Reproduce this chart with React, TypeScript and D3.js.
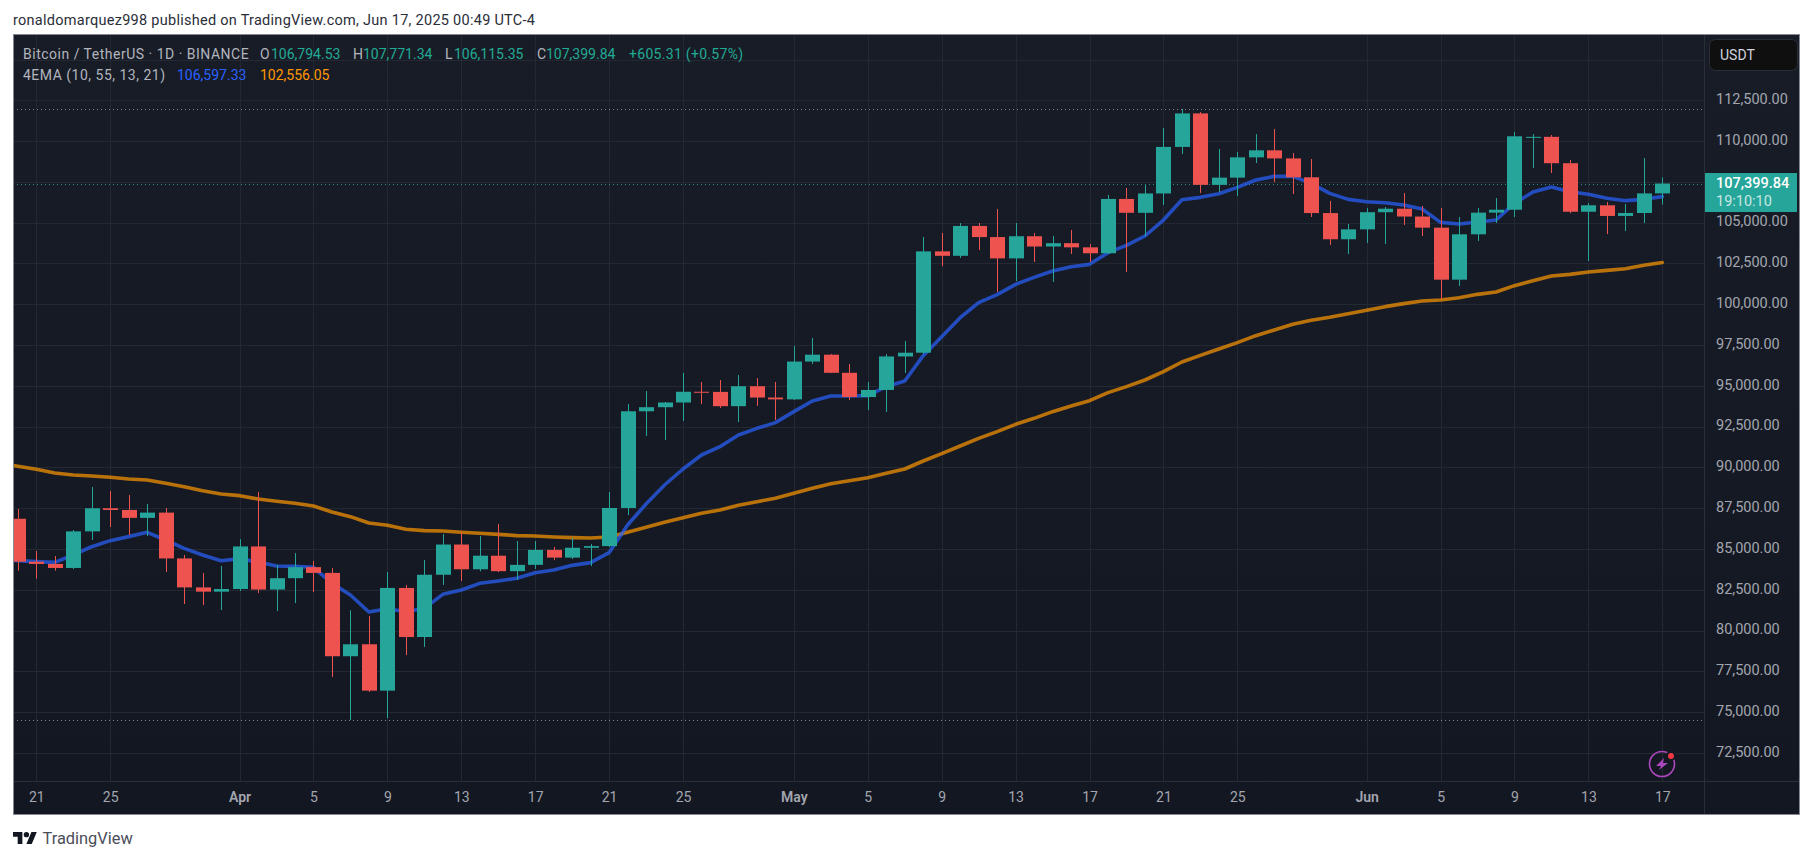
import React, { useEffect, useRef } from 'react';
import * as d3 from 'd3';

const firstDay = new Date(Date.UTC(2025, 2, 20));

const opens = [86854, 84223, 84088, 83840, 86082, 87498, 87392, 86909, 87232, 84424, 82648, 82389,
    82550, 85158, 82516, 83213, 83889, 83537, 78430, 79163, 76322, 82615, 79607, 83423, 85276, 83760, 84591, 83643, 84030, 84947, 84474, 85077, 85179, 87516, 93442, 93691, 93980, 94638, 94630, 93754, 94978, 94284,
    94172, 96489, 96910, 95800, 94315, 94748, 96802, 97032, 103241, 102970, 104800, 104118, 102812, 104169, 103539, 103744, 103489, 103126, 106454, 105606, 106791, 109643, 111696, 107318, 107761, 109004, 109434, 108938, 107781, 105589, 103985, 104591,
    105642, 105857, 105376, 104696, 101508, 104288, 105615, 105793, 110230, 110261, 108645, 105671, 106066, 105414, 105594, 106794.53];
const highs = [87455, 84880, 84573, 86167, 88800, 88557, 88312, 87760, 87515, 84635, 83530, 83960,
    85600, 88500, 84020, 84750, 84270, 83830, 81250, 80900, 83590, 82800, 84330, 85920, 86070, 85800, 86540, 85490, 85490, 85125, 85680, 85310, 88500, 93890, 94685, 94010, 95790, 95235, 95360, 95665, 95480, 95240,
    97445, 97935, 96950, 96340, 95240, 96950, 97750, 104120, 104370, 104980, 104980, 105840, 104980, 104370, 104185, 104550, 103695, 106695, 107125, 107300, 110800, 111970, 111780, 109515, 109330, 110430, 110740, 109270, 108900, 106328, 104918,
    105900, 105960, 106820, 106022, 105900, 105348, 105900, 106510, 110557, 110435, 110374, 108842, 106206, 106267, 106145, 108964, 107771.34];
const lows = [83674, 83184, 83674, 83770, 85554, 86351, 85860, 85800, 83590, 81630, 81570, 81260,
    82430, 82300, 81200, 81690, 82370, 77160, 74520, 76240, 74640, 78500, 79000, 82800, 83040, 83640, 83590, 83100, 83780, 84320, 84390, 83960, 85120, 87085, 91930, 91680, 92845, 93890, 93645, 92785, 93770, 92910,
    94130, 96340, 95790, 94130, 93520, 93400, 95787, 96950, 102345, 102836, 103325, 100750, 101425, 102590, 101365, 103080, 102590, 103080, 101976, 104180, 106083, 109208, 106818, 106880, 106635, 108657, 107490, 106757, 105347, 103630, 103080,
    103760, 103690, 104858, 104183, 100320, 101120, 103877, 104980, 105348, 108351, 108045, 105580, 102650, 104306, 104490, 104980, 106115.35];
const closes = [84223, 84088, 83840, 86082, 87498, 87392, 86909, 87232, 84424, 82648, 82389, 82550,
    85158, 82516, 83213, 83889, 83537, 78430, 79163, 76322, 82615, 79607, 83423, 85276, 83760, 84591, 83643, 84030, 84947, 84474, 85077, 85179, 87516, 93442, 93691, 93980, 94638, 94630, 93754, 94978, 94284, 94172,
    96489, 96910, 95800, 94315, 94748, 96802, 97032, 103241, 102970, 104800, 104118, 102812, 104169, 103539, 103744, 103489, 103126, 106454, 105606, 106791, 109643, 111696, 107318, 107761, 109004, 109434, 108938, 107781, 105589, 103985, 104591,
    105642, 105857, 105376, 104696, 101508, 104288, 105615, 105793, 110295, 110261, 108645, 105671, 106066, 105414, 105594, 106794, 107399.84];

// The EMA lists start one day earlier (Mar 19), that day is cut off by the left edge of the panel
const emaFast = [84320, 84287, 84226, 84185, 84635, 85145, 85513, 85760, 86024, 85554, 85040, 84635, 84287,
    84410, 84205, 83960, 83940, 83880, 82900, 82180, 81141, 81345, 81160, 81366, 82224, 82490, 82898, 83040, 83205, 83552, 83715, 84000, 84165, 84778, 86472, 87760, 88924, 89905, 90763, 91274, 91989, 92397, 92745,
    93419, 94072, 94379, 94379, 94400, 94951, 95298, 96850, 98014, 99178, 100098, 100588, 101221, 101650, 102039, 102304, 102447, 103162, 103612, 104184, 105163, 106410, 106553, 106777, 107166, 107615, 107840, 107840, 107410, 106798, 106430,
    106287, 106226, 106083, 105838, 105021, 104919, 105041, 105164, 106186, 106880, 107187, 106900, 106737, 106492, 106349, 106431, 106597.33];
const emaSlow = [90260, 90069, 89885, 89660, 89538, 89476, 89395, 89293, 89231, 89027, 88823, 88578, 88373,
    88271, 88067, 87924, 87801, 87638, 87270, 86984, 86596, 86453, 86208, 86126, 86105, 86024, 85963, 85901, 85820, 85799, 85738, 85697, 85677, 85738, 86024, 86330, 86636, 86922, 87188, 87392, 87678, 87903, 88107,
    88413, 88720, 89006, 89190, 89373, 89639, 89905, 90395, 90844, 91314, 91784, 92193, 92642, 93010, 93419, 93766, 94093, 94583, 94951, 95359, 95870, 96462, 96871, 97259, 97647, 98076, 98424, 98771, 99016, 99200, 99425,
    99629, 99854, 100038, 100201, 100261, 100404, 100608, 100751, 101140, 101446, 101732, 101834, 101977, 102079, 102181, 102386, 102556.05];

const priceTicks = d3.range(72500, 112501, 2500);
const gridPrices = d3.range(72500, 115001, 2500);
const dateTicks = [[2, 21], [2, 25], [3, 1], [3, 5], [3, 9], [3, 13], [3, 17], [3, 21], [3, 25], [4, 1], [4, 5], [4, 9], [4, 13], [4, 17], [4, 21], [4, 25], [5, 1], [5, 5], [5, 9], [5, 13], [5, 17]]
    .map(([m, d]) => new Date(Date.UTC(2025, m, d)));

const highLine = 111980;
const lowLine = 74508;
const lastPrice = 107399.84;

const UP = '#26a69a';
const DOWN = '#ef5350';
const FONT = 'Roboto, "Open Sans", sans-serif';

export default function App() {
    const svgRef = useRef<SVGSVGElement>(null);

    useEffect(() => {
        if (!svgRef.current) return;
        const svg = d3.select(svgRef.current);
        svg.selectAll('*').remove();

        const plot = { left: 13, right: 1704, top: 34, bottom: 781, outerRight: 1800, outerBottom: 815 };

        const x = d3.scaleUtc()
            .domain([new Date(Date.UTC(2025, 2, 21)), new Date(Date.UTC(2025, 5, 17))])
            .range([36.3, 1662.3]);
        const y = d3.scaleLinear()
            .domain([72500, 112500])
            .range([753, 100.3]);
        const dayX = (i: number) => x(d3.utcDay.offset(firstDay, i));

        const defs = svg.append('defs');
        const grad = defs.append('linearGradient').attr('id', 'bg').attr('x1', 0).attr('x2', 0).attr('y1', 0).attr('y2', 1);
        grad.append('stop').attr('offset', '0%').attr('stop-color', '#181c27');
        grad.append('stop').attr('offset', '100%').attr('stop-color', '#131722');
        defs.append('clipPath').attr('id', 'plot').append('rect')
            .attr('x', plot.left).attr('y', plot.top)
            .attr('width', plot.right - plot.left).attr('height', plot.bottom - plot.top);

        svg.append('rect').attr('width', 1814).attr('height', 860).attr('fill', '#ffffff');

        // Header
        svg.append('text')
            .attr('x', 13).attr('y', 25)
            .attr('font-family', FONT).attr('font-size', 14.5).attr('letter-spacing', 0.27).attr('fill', '#2a2e39')
            .text('ronaldomarquez998 published on TradingView.com, Jun 17, 2025 00:49 UTC-4');

        // Panel
        svg.append('rect')
            .attr('x', plot.left).attr('y', plot.top)
            .attr('width', plot.outerRight - plot.left).attr('height', plot.outerBottom - plot.top)
            .attr('fill', 'url(#bg)');

        const chart = svg.append('g').attr('clip-path', 'url(#plot)');

        // Grid
        chart.append('g').selectAll('line').data(gridPrices).join('line')
            .attr('x1', plot.left).attr('x2', plot.right)
            .attr('y1', d => Math.round(y(d)) + 0.5).attr('y2', d => Math.round(y(d)) + 0.5)
            .attr('stroke', '#242832');
        chart.append('g').selectAll('line').data(dateTicks).join('line')
            .attr('x1', d => Math.round(x(d)) + 0.5).attr('x2', d => Math.round(x(d)) + 0.5)
            .attr('y1', plot.top).attr('y2', plot.bottom)
            .attr('stroke', '#242832');

        // Dotted high / low / last price lines
        const dotted = [
            { price: highLine, color: '#9598a1' },
            { price: lowLine, color: '#9598a1' },
            { price: lastPrice, color: UP },
        ];
        chart.append('g').selectAll('line').data(dotted).join('line')
            .attr('x1', plot.left).attr('x2', plot.right)
            .attr('y1', d => Math.round(y(d.price)) + 0.5).attr('y2', d => Math.round(y(d.price)) + 0.5)
            .attr('stroke', d => d.color)
            .attr('stroke-opacity', 0.85)
            .attr('stroke-dasharray', '1,3');

        // EMA lines go under the candles
        const line = d3.line<number>().x((_, i) => dayX(i - 1)).y(d => y(d));
        [{ values: emaSlow, color: '#ff9800' }, { values: emaFast, color: '#2962ff' }].forEach(s => {
            chart.append('path')
                .attr('d', line(s.values))
                .attr('fill', 'none')
                .attr('stroke', s.color)
                .attr('stroke-opacity', 0.7)
                .attr('stroke-width', 3.6)
                .attr('stroke-linecap', 'round')
                .attr('stroke-linejoin', 'round');
        });

        // Candles
        const bars = d3.range(closes.length);
        const colorOf = (i: number) => (closes[i] >= opens[i] ? UP : DOWN);
        chart.append('g').selectAll('line').data(bars).join('line')
            .attr('x1', i => Math.round(dayX(i)) + 0.5).attr('x2', i => Math.round(dayX(i)) + 0.5)
            .attr('y1', i => y(highs[i])).attr('y2', i => y(lows[i]))
            .attr('stroke', colorOf);
        const bodyWidth = 15;
        chart.append('g').selectAll('rect').data(bars).join('rect')
            .attr('x', i => Math.round(dayX(i)) + 0.5 - bodyWidth / 2)
            .attr('width', bodyWidth)
            .attr('y', i => y(Math.max(opens[i], closes[i])))
            .attr('height', i => Math.max(1, Math.abs(y(opens[i]) - y(closes[i]))))
            .attr('fill', colorOf);

        // Price axis
        const yAxis = svg.append('g')
            .attr('transform', `translate(${plot.right},0)`)
            .call(d3.axisRight(y).tickValues(priceTicks).tickFormat(d3.format(',.2f') as any).tickSize(0).tickPadding(12));
        yAxis.select('.domain').remove();
        yAxis.selectAll('text')
            .attr('dy', '0.22em')
            .attr('font-family', FONT).attr('font-size', 14.5).attr('fill', '#a3a6af');

        // Time axis
        const xAxis = svg.append('g')
            .attr('transform', `translate(0,${plot.bottom})`)
            .call(d3.axisBottom(x).tickValues(dateTicks)
                .tickFormat(d => ((d as Date).getUTCDate() === 1 ? d3.utcFormat('%b')(d as Date) : d3.utcFormat('%-d')(d as Date)))
                .tickSize(0).tickPadding(11));
        xAxis.select('.domain').remove();
        xAxis.selectAll('text')
            .attr('font-family', FONT).attr('font-size', 14).attr('fill', '#a3a6af')
            .attr('font-weight', d => ((d as Date).getUTCDate() === 1 ? 600 : 400));

        // Separators and frame
        svg.append('line').attr('x1', plot.right + 0.5).attr('x2', plot.right + 0.5).attr('y1', plot.top).attr('y2', plot.outerBottom).attr('stroke', '#2a2e39');
        svg.append('line').attr('x1', plot.left).attr('x2', plot.outerRight).attr('y1', plot.bottom + 0.5).attr('y2', plot.bottom + 0.5).attr('stroke', '#2a2e39');
        svg.append('rect')
            .attr('x', plot.left + 0.5).attr('y', plot.top + 0.5)
            .attr('width', plot.outerRight - plot.left - 1).attr('height', plot.outerBottom - plot.top - 1)
            .attr('fill', 'none').attr('stroke', '#868993');

        // USDT button
        svg.append('rect').attr('x', 1709.5).attr('y', 39.5).attr('width', 88).attr('height', 31).attr('rx', 6)
            .attr('fill', '#0f0f0f').attr('stroke', '#2a2e39');
        svg.append('text').attr('x', 1720).attr('y', 60)
            .attr('font-family', FONT).attr('font-size', 14).attr('fill', '#d1d4dc').text('USDT');

        // Last price tag
        svg.append('rect').attr('x', plot.right + 1).attr('y', y(lastPrice) - 10.5).attr('width', 92).attr('height', 39).attr('fill', UP);
        svg.append('text').attr('x', 1716).attr('y', y(lastPrice) + 4)
            .attr('font-family', FONT).attr('font-size', 14.5).attr('font-weight', 500).attr('fill', '#ffffff').text(d3.format(',.2f')(lastPrice));
        svg.append('text').attr('x', 1716).attr('y', y(lastPrice) + 22.5)
            .attr('font-family', FONT).attr('font-size', 14.5).attr('fill', 'rgba(255,255,255,0.75)').text('19:10:10');

        // Legend
        const legend = (px: number, py: number, text: string, color: string, spacing = 0) =>
            svg.append('text').attr('x', px).attr('y', py)
                .attr('font-family', FONT).attr('font-size', 14).attr('letter-spacing', spacing).attr('fill', color).text(text);
        const muted = '#b2b5be';
        const teal = '#22ab94';
        const f = d3.format(',.2f');
        const last = closes.length - 1;
        legend(23, 59, 'Bitcoin / TetherUS · 1D · BINANCE', muted, 0.5);
        legend(260, 59, 'O', muted);
        legend(271, 59, f(opens[last]), teal);
        legend(353, 59, 'H', muted);
        legend(363, 59, f(highs[last]), teal);
        legend(445, 59, 'L', muted);
        legend(454, 59, f(lows[last]), teal);
        legend(537, 59, 'C', muted);
        legend(546, 59, f(closes[last]), teal);
        legend(629, 59, '+605.31 (+0.57%)', teal, 0.3);
        legend(23, 80, '4EMA (10, 55, 13, 21)', muted, 0.5);
        legend(177, 80, f(emaFast[emaFast.length - 1]), '#2962ff');
        legend(260, 80, f(emaSlow[emaSlow.length - 1]), '#ff9800');

        // Lightning badge
        const badge = svg.append('g').attr('transform', 'translate(1662,764)');
        badge.append('circle').attr('r', 12.5).attr('fill', 'none').attr('stroke', '#ab47bc').attr('stroke-width', 1.6);
        badge.append('path').attr('d', 'M2,-6 L-6,2 L-1,2 L-3,6 L6,-1 L1,-1 Z').attr('fill', '#ab47bc');
        badge.append('circle').attr('cx', 9).attr('cy', -8).attr('r', 5).attr('fill', '#131722');
        badge.append('circle').attr('cx', 9).attr('cy', -8).attr('r', 3).attr('fill', '#f23645');

        // Logo
        const logo = svg.append('g').attr('transform', 'translate(13,829.3) scale(0.67)').attr('fill', '#131722');
        logo.append('path').attr('d', 'M14 22H7V11H0V4h14v18zM28 22h-8l7.5-18h8L28 22z');
        logo.append('circle').attr('cx', 20).attr('cy', 8).attr('r', 4);
        svg.append('text').attr('x', 42.5).attr('y', 844)
            .attr('font-family', FONT).attr('font-size', 16.4).attr('fill', '#4a4e59').text('TradingView');
    }, []);

    return <svg ref={svgRef} width={1814} height={860} style={{ position: 'absolute', left: 0, top: 0, display: 'block' }} />;
}
